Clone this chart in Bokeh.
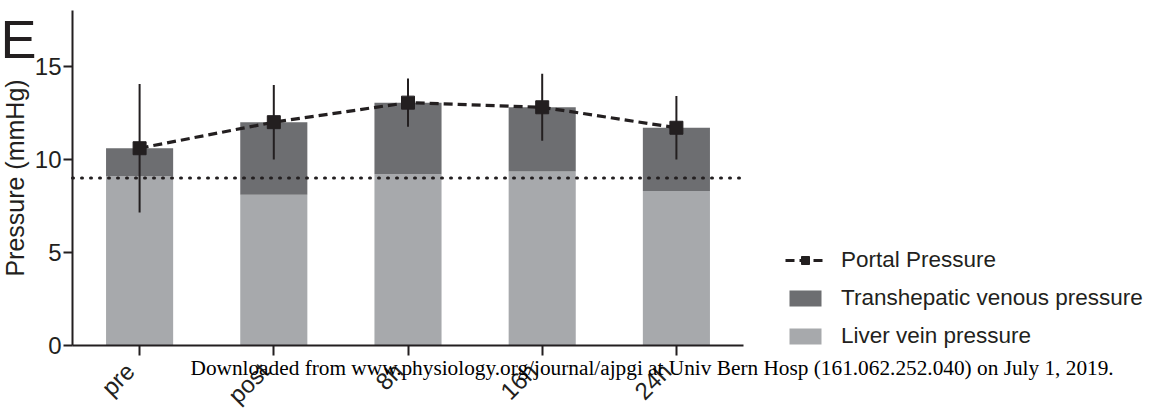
from bokeh.plotting import figure
from bokeh.models import Range1d, Legend, LegendItem, Label, FixedTicker, ColumnDataSource
from bokeh.embed import file_html
from bokeh.resources import INLINE
from math import pi

# Hemodynamic measurements per time point (mmHg)
timepoints = ["pre", "post", "8h", "16h", "24h"]
liver_vein = [9.1, 8.1, 9.2, 9.35, 8.3]
transhepatic = [1.5, 3.9, 3.85, 3.45, 3.4]
portal = [10.6, 12.0, 13.05, 12.8, 11.7]
portal_sd = [3.45, 2.0, 1.3, 1.8, 1.7]
reference_level = 9.0
y_ticks = [0, 5, 10, 15]

INK = "#231f20"
DARK = "#6d6e71"
LIGHT = "#a7a9ac"
FONT = "Liberation Sans"
NBSP = "\u00a0"

W, H = 1163, 412
# plotting area inside the canvas (pixels) and the data extent of the axes
AX_LEFT, AX_RIGHT, AX_TOP, AX_BOTTOM = 72, 743, 10, 345
X_BOUNDS = (0.5, 5.5)
Y_BOUNDS = (0, 18)

# the frame spans the whole canvas; the axes sit at fixed data positions
sx = (AX_RIGHT - AX_LEFT) / (X_BOUNDS[1] - X_BOUNDS[0])
sy = (AX_BOTTOM - AX_TOP) / (Y_BOUNDS[1] - Y_BOUNDS[0])
x_range = Range1d(X_BOUNDS[0] - AX_LEFT / sx, X_BOUNDS[1] + (W - AX_RIGHT) / sx)
y_range = Range1d(Y_BOUNDS[0] - (H - AX_BOTTOM) / sy, Y_BOUNDS[1] + AX_TOP / sy)

xs = list(range(1, len(timepoints) + 1))
bar_top = [a + b for a, b in zip(liver_vein, transhepatic)]
src = ColumnDataSource(dict(
    x=xs, liver=liver_vein, top=bar_top, portal=portal,
    lo=[m - s for m, s in zip(portal, portal_sd)],
    hi=[m + s for m, s in zip(portal, portal_sd)],
))

p = figure(width=W, height=H, output_backend="svg", toolbar_location=None,
           x_range=x_range, y_range=y_range,
           min_border_left=0, min_border_right=0, min_border_top=0, min_border_bottom=0)
p.outline_line_color = None
p.grid.visible = False

r_light = p.vbar(x="x", bottom=0, top="liver", width=0.5, source=src, fill_color=LIGHT, line_color=None)
r_dark = p.vbar(x="x", bottom="liver", top="top", width=0.5, source=src, fill_color=DARK, line_color=None)

# dotted reference level across the plotting area
p.line(x=list(X_BOUNDS), y=[reference_level, reference_level], line_color=INK,
       line_width=3, line_dash="1 8", line_cap="round")

# SD error bars of portal pressure
p.segment(x0="x", y0="lo", x1="x", y1="hi", source=src, line_color=INK, line_width=2)

r_line = p.line(x="x", y="portal", source=src, line_color=INK, line_width=3.2, line_dash="9 5")
r_pts = p.scatter(x="x", y="portal", source=src, marker="square", size=13, fill_color=INK, line_color=INK)

# Axes
for ax in (p.xaxis[0], p.yaxis[0]):
    ax.axis_line_color = INK
    ax.axis_line_width = 2
    ax.major_tick_line_color = INK
    ax.major_tick_line_width = 2
    ax.minor_tick_line_color = None
    ax.major_label_text_font = FONT
    ax.major_label_text_font_size = "24px"
    ax.major_label_text_color = INK

p.yaxis.fixed_location = X_BOUNDS[0]
p.yaxis.bounds = Y_BOUNDS
p.yaxis.ticker = FixedTicker(ticks=y_ticks)
p.yaxis.major_tick_out = 9
p.yaxis.major_tick_in = 0
p.yaxis.major_label_standoff = 2
p.yaxis.axis_label = "Pressure (mmHg)"
p.yaxis.axis_label_text_font = FONT
p.yaxis.axis_label_text_font_size = "25px"
p.yaxis.axis_label_text_font_style = "normal"
p.yaxis.axis_label_text_color = INK
p.yaxis.axis_label_standoff = 3

p.xaxis.fixed_location = Y_BOUNDS[0]
p.xaxis.bounds = X_BOUNDS
p.xaxis.ticker = FixedTicker(ticks=xs)
p.xaxis.major_label_overrides = {x: t + NBSP * 2 for x, t in zip(xs, timepoints)}
p.xaxis.major_tick_out = 10
p.xaxis.major_tick_in = 0
p.xaxis.major_label_orientation = pi / 4
p.xaxis.major_label_standoff = 2

legend = Legend(items=[
    LegendItem(label="Portal Pressure", renderers=[r_line, r_pts]),
    LegendItem(label="Transhepatic venous pressure", renderers=[r_dark]),
    LegendItem(label="Liver vein pressure", renderers=[r_light]),
], location=(785, 63), glyph_width=40, glyph_height=20, label_height=20,
    spacing=12, label_standoff=16, padding=0, margin=0,
    border_line_alpha=0, background_fill_alpha=0,
    label_text_font=FONT, label_text_font_size="22.5px", label_text_color=INK)
p.add_layout(legend, "center")

p.add_layout(Label(x=0, y=H - 38, x_units="screen", y_units="screen", text="E",
                   text_font=FONT, text_font_size="54px", text_color=INK,
                   text_baseline="alphabetic"))
p.add_layout(Label(x=190, y=H - 367, x_units="screen", y_units="screen",
                   text="Downloaded from www.physiology.org/journal/ajpgi at Univ Bern Hosp (161.062.252.040) on July 1, 2019.",
                   text_font="Liberation Serif", text_font_size="21.3px", text_color="black",
                   text_baseline="alphabetic"))

open("out.html", "w").write(file_html(p, INLINE))
